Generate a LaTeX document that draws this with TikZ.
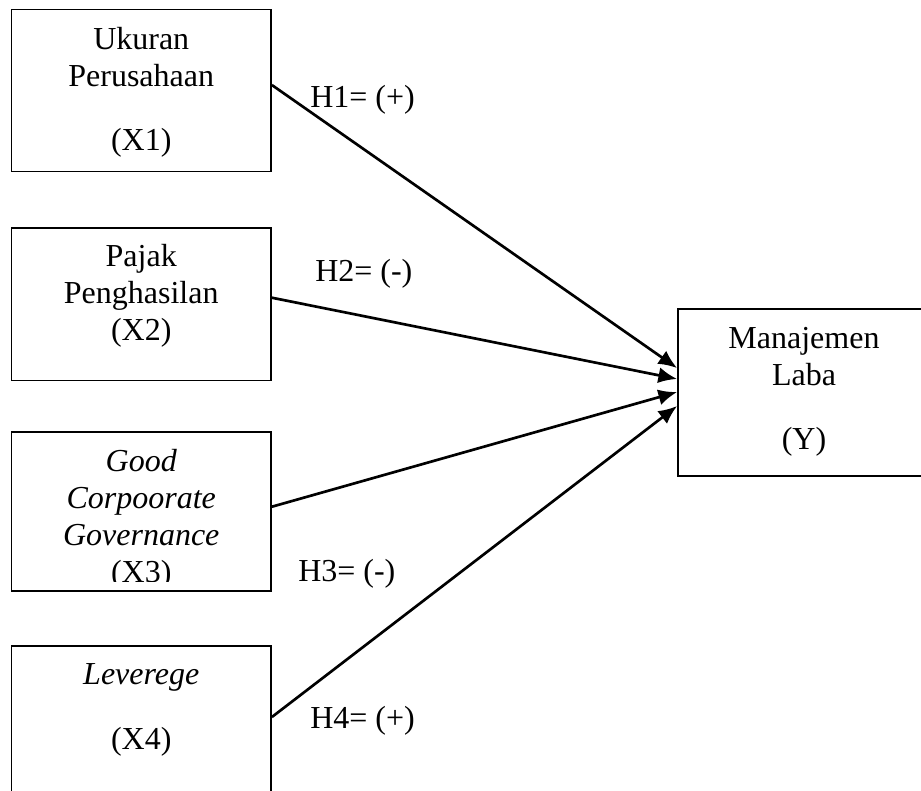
\documentclass[tikz,border=0pt]{standalone}
\usepackage{fontspec}
\setmainfont{Liberation Serif}
\usepackage{tikz}
\usetikzlibrary{positioning,arrows.meta}

\tikzset{
	kotak/.style={draw, line width=1.4pt, minimum width=194.6pt, inner sep=0pt},
	teks/.style={align=center, inner sep=0pt, font=\fontsize{24}{27.75}\selectfont},
	panah/.style={-{Latex[length=14pt,width=12pt]}, line width=2pt}
}

\begin{document}
\begin{tikzpicture}[x=0.75pt,y=-0.75pt]
			\useasboundingbox (0,0) rectangle (921,790);
			\clip (0,0) rectangle (921,790);
			
			%Kotak variabel
			\node[kotak, minimum height=121.5pt] (x1) at (141.25,90.5) {};
			\node[kotak, minimum height=114.4pt] (x2) at (141.25,304.25) {};
			\node[kotak, minimum height=119.25pt] (x3) at (141.25,511.5) {};
			\node[kotak, minimum height=120pt] (x4) at (141.25,726) {};
			\node[kotak, minimum width=189pt, minimum height=125pt] (y) at (804,392.7) {};
			
			%Isi kotak
			\node[teks, below=11pt of x1.north] (tx1) {\strut Ukuran\\Perusahaan\\[20pt](X1)};
			\node[teks, below=9.6pt of x2.north] (tx2) {\strut Pajak\\Penghasilan\\(X2)};
			\begin{scope}
				\clip (x3.north west) rectangle ([yshift=7.5pt]x3.south east); %teks X3 terpotong
				\node[teks, below=10.4pt of x3.north] (tx3) {\strut\textit{Good}\\\textit{Corpoorate}\\\textit{Governance}\\(X3)};
			\end{scope}
			\node[teks, below=9.8pt of x4.north] (tx4) {\strut\textit{Leverege}\\[21.5pt](X4)};
			\node[teks, below=10.6pt of y.north] (ty) {\strut Manajemen\\Laba\\[20pt](Y)};
			
			%Panah
			\draw[panah] ([yshift=4.1pt]x1.east) -- ([yshift=18.5pt]y.west);
			\draw[panah] ([yshift=4.9pt]x2.east) -- ([yshift=10.3pt]y.west);
			\draw[panah] ([yshift=3.6pt]x3.east) -- ([yshift=0.5pt]y.west);
			\draw[panah] ([yshift=6.75pt]x4.east) -- ([yshift=-10pt]y.west);
			
			%Hipotesis
			\node[teks, anchor=base west] (h1) at (310,107) {H1= (+)};
			\node[teks, anchor=base west] (h2) at (315,281.7) {H2= (-)};
			\node[teks, anchor=base west] (h3) at (298,581.7) {H3= (-)};
			\node[teks, anchor=base west] (h4) at (310,728) {H4= (+)};
		\end{tikzpicture}
\end{document}
